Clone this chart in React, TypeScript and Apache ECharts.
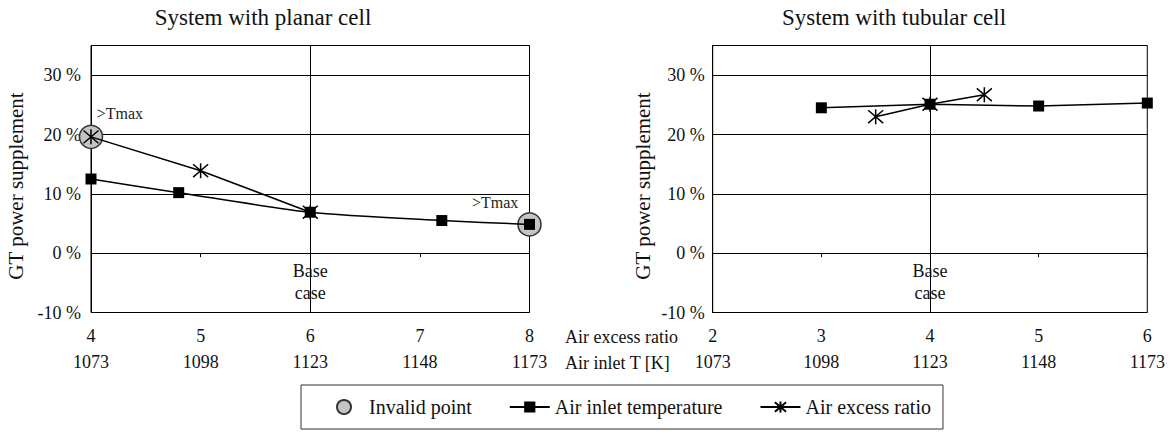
import React, { useEffect, useRef } from "react";
import * as echarts from "echarts";

// ---- data ----
const titles = ["System with planar cell", "System with tubular cell"];
const yName = "GT power supplement";
const xNames = ["Air excess ratio", "Air inlet T [K]"];
const seriesNames = ["Invalid point", "Air inlet temperature", "Air excess ratio"];

// planar cell
const planarRatioTicks = [4, 5, 6, 7, 8];
const planarTempTicks = [1073, 1098, 1123, 1148, 1173];
const planarTempK = [1073, 1093, 1123, 1153, 1173];
const planarTempGT = [12.5, 10.2, 6.9, 5.5, 4.85];
const planarRatio = [4, 5, 6];
const planarRatioGT = [19.6, 13.9, 6.9];
const planarInvalidX = [4, 8];
const planarInvalidGT = [19.6, 4.85];
const planarBase = 6;

// tubular cell
const tubularRatioTicks = [2, 3, 4, 5, 6];
const tubularTempTicks = [1073, 1098, 1123, 1148, 1173];
const tubularTempK = [1098, 1123, 1148, 1173];
const tubularTempGT = [24.5, 25.1, 24.8, 25.3];
const tubularRatio = [3.5, 4, 4.5];
const tubularRatioGT = [23.0, 25.1, 26.7];
const tubularBase = 4;

const yMin = -10;
const yMax = 35;
const baseLabelY = -4.9;

const FONT = '"Liberation Serif", "Times New Roman", serif';
const TXT = "#111";
const ASTERISK = "path://M1,1L13,13M13,1L1,13M7,0L7,14";

export default function App() {
  const ref = useRef<HTMLDivElement>(null);
  useEffect(() => {
    document.body.style.margin = "0";
    if (!ref.current) return;
    const chart = echarts.init(ref.current, null, { renderer: "svg" });

    const grids = [
      { left: 91, top: 45.5, width: 438.5, height: 267 },
      { left: 712.7, top: 45.5, width: 434.6, height: 267 },
    ];

    const ratioAxis = (gi: number, ticks: number[]) => ({
      type: "value",
      gridIndex: gi,
      position: "bottom",
      min: ticks[0],
      max: ticks[ticks.length - 1],
      interval: 1,
      axisLine: { show: true, lineStyle: { color: "#000", width: 1 } },
      axisTick: { show: true, length: 4, lineStyle: { color: "#000" } },
      splitLine: { show: false },
      axisLabel: { margin: 14, fontSize: 18, fontFamily: FONT, color: TXT, formatter: (v: number) => String(v) },
    });
    const tempAxis = (gi: number, ticks: number[]) => ({
      type: "value",
      gridIndex: gi,
      position: "bottom",
      offset: 26.3,
      min: ticks[0],
      max: ticks[ticks.length - 1],
      axisLine: { show: false },
      axisTick: { show: false },
      splitLine: { show: false },
      axisLabel: {
        margin: 14,
        fontSize: 18,
        fontFamily: FONT,
        color: TXT,
        customValues: ticks,
        formatter: (v: number) => String(v),
      },
    });
    const yAxis = (gi: number, margin: number) => ({
      type: "value",
      gridIndex: gi,
      min: yMin,
      max: yMax,
      interval: 10,
      axisLine: { show: true, lineStyle: { color: "#000" } },
      axisTick: { show: false },
      splitLine: { show: true, lineStyle: { color: "#000", width: 1 } },
      axisLabel: {
        margin,
        fontSize: 18,
        fontFamily: FONT,
        color: TXT,
        showMaxLabel: false,
        formatter: (v: number) => `${v} %`,
      },
    });

    const lineStyle = { color: "#000", width: 1.5 };
    const squareSeries = (xi: number, yi: number, xs: number[], ys: number[], smooth: number) => ({
      type: "line",
      name: seriesNames[1],
      xAxisIndex: xi,
      yAxisIndex: yi,
      data: xs.map((x, i) => [x, ys[i]]),
      symbol: "rect",
      symbolSize: 11,
      smooth,
      lineStyle,
      itemStyle: { color: "#000" },
      z: 3,
    });
    const starSeries = (xi: number, yi: number, xs: number[], ys: number[], base: number) => ({
      type: "line",
      name: seriesNames[2],
      xAxisIndex: xi,
      yAxisIndex: yi,
      data: xs.map((x, i) => [x, ys[i]]),
      symbol: ASTERISK,
      symbolSize: 15,
      lineStyle,
      itemStyle: { color: "#000", borderColor: "#000", borderWidth: 1.5 },
      z: 4,
      markLine: {
        silent: true,
        symbol: ["none", "none"],
        label: { show: false },
        lineStyle: { color: "#000", width: 1, type: "solid" },
        data: [{ xAxis: base }],
      },
    });
    const baseLabel = (xi: number, yi: number, base: number) => ({
      type: "scatter",
      xAxisIndex: xi,
      yAxisIndex: yi,
      silent: true,
      symbolSize: 0.1,
      itemStyle: { color: "#000", opacity: 1 },
      data: [[base, baseLabelY]],
      label: {
        show: true,
        position: [0, 0],
        align: "center",
        verticalAlign: "middle",
        formatter: "Base\ncase",
        fontSize: 18,
        lineHeight: 21.5,
        fontFamily: FONT,
        color: TXT,
        opacity: 1,
      },
    });

    const tmaxLabel = { show: true, formatter: ">Tmax", fontSize: 16, fontFamily: FONT, color: "#222", opacity: 1 };

    chart.setOption({
      animation: false,
      backgroundColor: "#fff",
      grid: grids.map((g) => ({ ...g, show: true, borderColor: "#000", borderWidth: 1, backgroundColor: "transparent" })),
      xAxis: [
        ratioAxis(0, planarRatioTicks),
        tempAxis(0, planarTempTicks),
        ratioAxis(1, tubularRatioTicks),
        tempAxis(1, tubularTempTicks),
      ],
      yAxis: [yAxis(0, 10), yAxis(1, 8)],
      legend: {
        data: seriesNames,
        left: 301,
        top: 385,
        orient: "horizontal",
        itemWidth: 40,
        itemHeight: 14,
        itemGap: 37,
        padding: [12, 12, 12, 35],
        borderColor: "#333",
        borderWidth: 1,
        textStyle: { fontSize: 20, fontFamily: FONT, color: TXT },
        selectedMode: false,
      },
      graphic: [
        { type: "text", x: 263, y: 17, style: { text: titles[0], font: `23px ${FONT}`, fill: TXT, align: "center", verticalAlign: "middle" } },
        { type: "text", x: 894, y: 17, style: { text: titles[1], font: `23px ${FONT}`, fill: TXT, align: "center", verticalAlign: "middle" } },
        { type: "text", x: 16, y: 186, rotation: Math.PI / 2, style: { text: yName, font: `21px ${FONT}`, fill: TXT, align: "center", verticalAlign: "middle" } },
        { type: "text", x: 643, y: 186, rotation: Math.PI / 2, style: { text: yName, font: `21px ${FONT}`, fill: TXT, align: "center", verticalAlign: "middle" } },
        { type: "text", x: 565, y: 336.5, style: { text: xNames[0], font: `18px ${FONT}`, fill: TXT, align: "left", verticalAlign: "middle" } },
        { type: "text", x: 565, y: 362.8, style: { text: xNames[1], font: `18px ${FONT}`, fill: TXT, align: "left", verticalAlign: "middle" } },
      ],
      series: [
        {
          type: "scatter",
          name: seriesNames[0],
          xAxisIndex: 0,
          yAxisIndex: 0,
          symbol: "circle",
          symbolSize: 23,
          z: 1,
          itemStyle: { color: "#c4c4c4", borderColor: "#333", borderWidth: 1.5, opacity: 1 },
          data: [
            { value: [planarInvalidX[0], planarInvalidGT[0]], label: { ...tmaxLabel, position: [18, -11], align: "left", verticalAlign: "middle" } },
            { value: [planarInvalidX[1], planarInvalidGT[1]], label: { ...tmaxLabel, position: [1, -10], align: "right", verticalAlign: "middle" } },
          ],
        },
        squareSeries(1, 0, planarTempK, planarTempGT, 0.25),
        starSeries(0, 0, planarRatio, planarRatioGT, planarBase),
        squareSeries(3, 1, tubularTempK, tubularTempGT, 0),
        starSeries(2, 1, tubularRatio, tubularRatioGT, tubularBase),
        baseLabel(0, 0, planarBase),
        baseLabel(2, 1, tubularBase),
      ],
    });
    return () => chart.dispose();
  }, []);
  return <div ref={ref} style={{ width: 1174, height: 433 }} />;
}
